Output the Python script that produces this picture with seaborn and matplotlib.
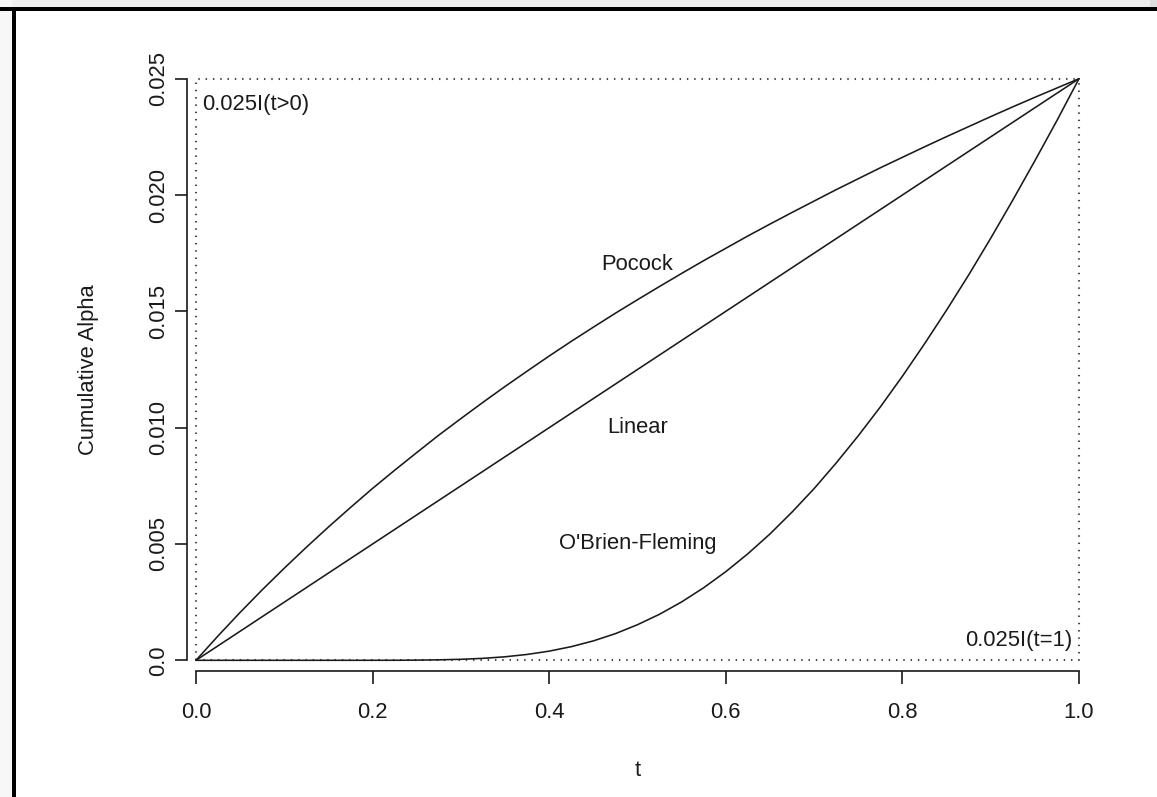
import numpy as np
import pandas as pd
import matplotlib
matplotlib.use("Agg")
import matplotlib.pyplot as plt
import seaborn as sns
from matplotlib.patches import Rectangle

# ---- data ----
t_grid = [0.000, 0.025, 0.050, 0.075, 0.100, 0.125, 0.150, 0.175, 0.200, 0.225,
          0.250, 0.275, 0.300, 0.325, 0.350, 0.375, 0.400, 0.425, 0.450, 0.475,
          0.500, 0.525, 0.550, 0.575, 0.600, 0.625, 0.650, 0.675, 0.700, 0.725,
          0.750, 0.775, 0.800, 0.825, 0.850, 0.875, 0.900, 0.925, 0.950, 0.975,
          1.000]
pocock = [0.0, 0.00105, 0.00206, 0.00303, 0.00396, 0.00486, 0.00573, 0.00657,
          0.00739, 0.00817, 0.00893, 0.00968, 0.01039, 0.01109, 0.01177, 0.01243,
          0.01308, 0.01371, 0.01432, 0.01492, 0.01550, 0.01607, 0.01663, 0.01718,
          0.01771, 0.01824, 0.01875, 0.01925, 0.01974, 0.02023, 0.02070, 0.02117,
          0.02162, 0.02207, 0.02251, 0.02294, 0.02337, 0.02379, 0.02420, 0.02460,
          0.02500]
linear = [0.0, 0.000625, 0.00125, 0.001875, 0.0025, 0.003125, 0.00375, 0.004375,
          0.0050, 0.005625, 0.00625, 0.006875, 0.0075, 0.008125, 0.00875, 0.009375,
          0.0100, 0.010625, 0.01125, 0.011875, 0.0125, 0.013125, 0.01375, 0.014375,
          0.0150, 0.015625, 0.01625, 0.016875, 0.0175, 0.018125, 0.01875, 0.019375,
          0.0200, 0.020625, 0.02125, 0.021875, 0.0225, 0.023125, 0.02375, 0.024375,
          0.0250]
obf = [0.0, 0.0, 0.0, 0.0, 0.0, 0.0, 0.0, 0.0,
       0.0000005, 0.000002, 0.0000075, 0.00002, 0.000043, 0.000084, 0.000151, 0.000252,
       0.000394, 0.000586, 0.000834, 0.001146, 0.00153, 0.00198, 0.00251, 0.00312,
       0.00381, 0.00458, 0.00543, 0.00637, 0.00738, 0.00848, 0.00965, 0.01089,
       0.01221, 0.01360, 0.01505, 0.01656, 0.01814, 0.01978, 0.02147, 0.02320,
       0.02500]

step_gt0_t = [0.0, 0.0, 1.0]
step_gt0_y = [0.0, 0.025, 0.025]
step_eq1_t = [0.0, 1.0, 1.0]
step_eq1_y = [0.0, 0.0, 0.025]

curve_labels = ["Pocock", "Linear", "O'Brien-Fleming"]
label_t = [0.5, 0.5, 0.5]
label_y = [0.017, 0.010, 0.005]

x_ticks = [0.0, 0.2, 0.4, 0.6, 0.8, 1.0]
x_ticklabels = ["0.0", "0.2", "0.4", "0.6", "0.8", "1.0"]
y_ticks = [0.0, 0.005, 0.010, 0.015, 0.020, 0.025]
y_ticklabels = ["0.0", "0.005", "0.010", "0.015", "0.020", "0.025"]

# ---- styling ----
sns.set_style("white")
plt.rcParams['font.family'] = ['Liberation Sans', 'DejaVu Sans']
FS = 15.8
INK = "#1a1a1a"

W, H = 1157, 797
fig = plt.figure(figsize=(W / 100, H / 100), dpi=100)
fig.patch.set_facecolor("white")

# screenshot frame
def px_rect(x0, y0, x1, y1, color):
    fig.patches.append(Rectangle((x0 / W, 1 - y1 / H), (x1 - x0) / W, (y1 - y0) / H,
                                 transform=fig.transFigure, facecolor=color,
                                 edgecolor="none", zorder=-10))
px_rect(0, 0, W, 7, "#efefef")
px_rect(0, 0, 12, H, "#f7f7f7")
px_rect(1150, 0, W, 7, "#dedede")
px_rect(0, 7, W, 10.5, "black")
px_rect(12, 7, 15.5, H, "black")

# axes box: pixels x 187..1088, y 68..671
ax = fig.add_axes([187 / W, 1 - 671 / H, 901 / W, 603 / H])
ax.set_facecolor("none")

n = len(t_grid)
df = pd.DataFrame({"t": t_grid * 3,
                   "alpha": pocock + linear + obf,
                   "method": ["Pocock"] * n + ["Linear"] * n + ["O'Brien-Fleming"] * n})
sns.lineplot(data=df, x="t", y="alpha", units="method", estimator=None,
             color=INK, lw=1.15, ax=ax, zorder=3)

dot_style = dict(color="#4a4a4a", lw=1.5, linestyle=(0, (0.7, 2.8)), zorder=2)
ax.plot(step_gt0_t, step_gt0_y, **dot_style)
ax.plot(step_eq1_t, step_eq1_y, **dot_style)

for lab, tx, ty in zip(curve_labels, label_t, label_y):
    ax.text(tx, ty, lab, ha="center", va="center", fontsize=FS, color=INK)
ax.text(0.007, 0.0239, "0.025I(t>0)", ha="left", va="center", fontsize=FS, color=INK)
ax.text(0.992, 0.00085, "0.025I(t=1)", ha="right", va="center", fontsize=FS, color=INK)

ax.set_xlim(-9 / 882, 1 + 9 / 882)
ax.set_ylim(-0.00046, 0.02546)

for s in ["top", "right"]:
    ax.spines[s].set_visible(False)
for s in ["left", "bottom"]:
    ax.spines[s].set_visible(True)
    ax.spines[s].set_color(INK)
    ax.spines[s].set_linewidth(1.2)
ax.spines["bottom"].set_bounds(0, 1)
ax.spines["left"].set_bounds(0, 0.025)

ax.set_xticks(x_ticks)
ax.set_xticklabels(x_ticklabels)
ax.set_yticks(y_ticks)
ax.set_yticklabels(y_ticklabels, rotation=90, va="center")
ax.tick_params(axis="both", direction="out", length=9, width=1.2, color=INK,
               labelsize=FS, labelcolor=INK, bottom=True, left=True)
ax.tick_params(axis="x", pad=13)
ax.tick_params(axis="y", pad=4)

ax.set_xlabel("t", fontsize=FS, color=INK, labelpad=27)
ax.set_ylabel("Cumulative Alpha", fontsize=FS, color=INK, labelpad=35)
ax.grid(False)

fig.savefig("out.png", dpi=100)
